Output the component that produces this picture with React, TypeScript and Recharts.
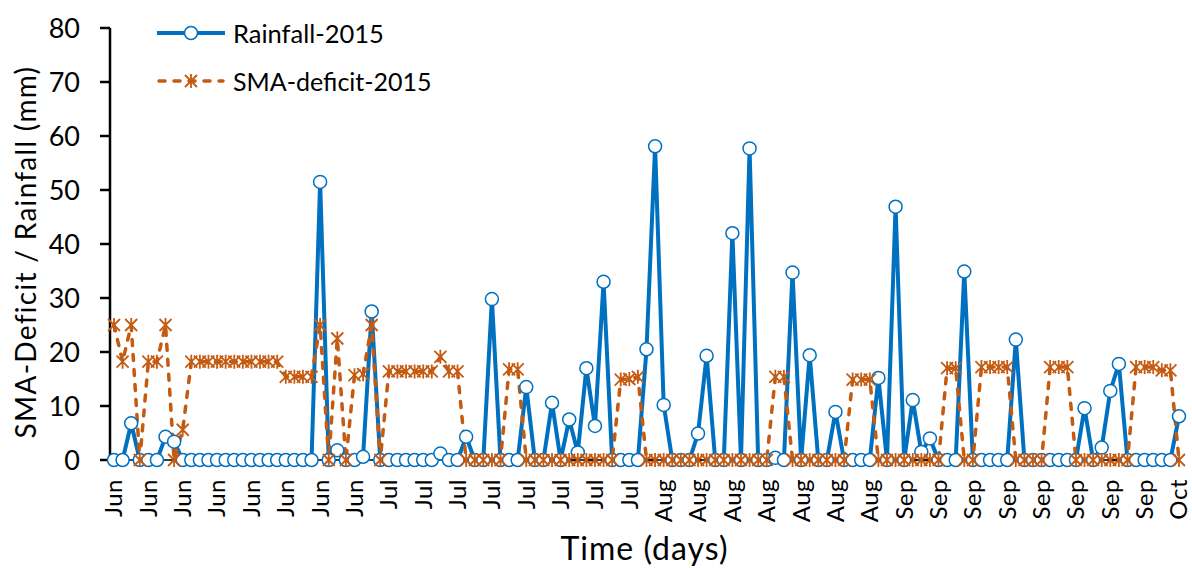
import React from 'react';
import { LineChart, Line, XAxis, YAxis, Legend } from 'recharts';

const RAIN_COLOR = '#0070C0';
const SMA_COLOR = '#C55A11';
const FONT = 'Lato, "Noto Sans", sans-serif';

const MONTH_NAMES = ['Jan', 'Feb', 'Mar', 'Apr', 'May', 'Jun', 'Jul', 'Aug', 'Sep', 'Oct', 'Nov', 'Dec'];
const FIRST_DAY = { year: 2015, month: 5, day: 1 }; // 1 June 2015

// daily rainfall (mm), 1 Jun - 3 Oct 2015
const rainfall2015 = [
  0, 0, 6.8, 0, 0, 0, 4.3, 3.4, 0, 0,
  0, 0, 0, 0, 0, 0, 0, 0, 0, 0,
  0, 0, 0, 0, 51.5, 0, 1.8, 0, 0, 0.6,
  27.5, 0, 0, 0, 0, 0, 0, 0, 1.2, 0,
  0, 4.3, 0, 0, 29.8, 0, 0, 0, 13.5, 0,
  0, 10.6, 0, 7.5, 1.4, 17.0, 6.3, 33.0, 0, 0,
  0, 0, 20.5, 58.1, 10.2, 0, 0, 0, 4.9, 19.3,
  0, 0, 42.0, 0, 57.7, 0, 0, 0.4, 0, 34.7,
  0, 19.4, 0, 0, 8.9, 0, 0, 0, 0, 15.2,
  0, 46.9, 0, 11.1, 1.5, 4.0, 0, 0, 0, 34.9,
  0, 0, 0, 0, 0, 22.3, 0, 0, 0, 0,
  0, 0, 0, 9.6, 0, 2.3, 12.8, 17.8, 0, 0,
  0, 0, 0, 0, 8.1,
];

// soil moisture accounting deficit (mm)
const smaDeficit2015 = [
  25, 18.2, 25, 0, 18.2, 18.2, 25, 0, 5.6, 18.2,
  18.2, 18.2, 18.2, 18.2, 18.2, 18.2, 18.2, 18.2, 18.2, 18.2,
  15.4, 15.4, 15.4, 15.4, 25, 0, 22.5, 0, 15.7, 15.9,
  25, 0, 16.4, 16.4, 16.4, 16.4, 16.4, 16.4, 19.1, 16.4,
  16.4, 0, 0, 0, 0, 0, 16.8, 16.8, 0, 0,
  0, 0, 0, 0, 0, 0, 0, 0, 0, 14.9,
  15.0, 15.4, 0, 0, 0, 0, 0, 0, 0, 0,
  0, 0, 0, 0, 0, 0, 0, 15.4, 15.4, 0,
  0, 0, 0, 0, 0, 0, 14.9, 14.9, 14.9, 0,
  0, 0, 0, 0, 0, 0, 0, 17.0, 17.0, 0,
  0, 17.2, 17.2, 17.2, 17.2, 0, 0, 0, 0, 17.2,
  17.2, 17.2, 0, 0, 0, 0, 0, 0, 0, 17.2,
  17.2, 17.2, 16.6, 16.6, 0,
];

const yTicks = [0, 10, 20, 30, 40, 50, 60, 70, 80];

const data = rainfall2015.map((rain, i) => {
  const d = new Date(FIRST_DAY.year, FIRST_DAY.month, FIRST_DAY.day + i);
  return {
    day: `${MONTH_NAMES[d.getMonth()]} ${d.getDate()}`,
    rainfall: rain,
    sma: smaDeficit2015[i],
  };
});

// excel style "star" marker: an X with a vertical bar through it
const StarDot = (props: any) => {
  const { cx, cy, index } = props;
  if (cx == null || cy == null) return null;
  return (
    <path
      key={`star-${index}`}
      d={`M${cx - 6},${cy - 6}L${cx + 6},${cy + 6}M${cx - 6},${cy + 6}L${cx + 6},${cy - 6}M${cx},${cy - 7}L${cx},${cy + 7}`}
      stroke={SMA_COLOR}
      strokeWidth={1.8}
      fill="none"
    />
  );
};

const MonthTick = (props: any) => {
  const { x, y, payload } = props;
  const month = String(payload.value).split(' ')[0];
  return (
    <g transform={`translate(${x},${y})`}>
      <text
        transform="rotate(-90)"
        x={-19}
        y={0}
        dy="0.35em"
        textAnchor="end"
        fontSize={24}
        letterSpacing={0.5}
        fontFamily={FONT}
        fill="#000"
      >
        {month}
      </text>
    </g>
  );
};

const YTitle = (props: any) => {
  const { viewBox } = props;
  const x = viewBox.x + 25;
  const y = viewBox.y + viewBox.height / 2 + 8;
  return (
    <text
      x={x}
      y={y}
      transform={`rotate(-90, ${x}, ${y})`}
      textAnchor="middle"
      dominantBaseline="central"
      fontSize={28}
      letterSpacing={1.3}
      fontFamily={FONT}
      fill="#000"
    >
      SMA-Deficit / Rainfall (mm)
    </text>
  );
};

const XTitle = (props: any) => {
  const { viewBox } = props;
  return (
    <text
      x={viewBox.x + viewBox.width / 2}
      y={viewBox.y + 100}
      textAnchor="middle"
      fontSize={32}
      letterSpacing={1}
      fontFamily={FONT}
      fill="#000"
    >
      Time (days)
    </text>
  );
};

const LegendBox = () => (
  <svg width={330} height={100}>
    <line x1={7} x2={75} y1={20} y2={20} stroke={RAIN_COLOR} strokeWidth={4} />
    <circle cx={41} cy={20} r={6.5} fill="#fff" stroke={RAIN_COLOR} strokeWidth={1.5} />
    <text x={83} y={20} dominantBaseline="central" fontSize={25.5} fontFamily={FONT} fill="#000">
      Rainfall-2015
    </text>
    <line
      x1={9}
      x2={73}
      y1={68}
      y2={68}
      stroke={SMA_COLOR}
      strokeWidth={3.5}
      strokeDasharray="6 9"
      strokeLinecap="round"
    />
    <path d="M35,62L47,74M35,74L47,62M41,61L41,75" stroke={SMA_COLOR} strokeWidth={1.8} fill="none" />
    <text x={83} y={68} dominantBaseline="central" fontSize={25} fontFamily={FONT} fill="#000">
      SMA-deficit-2015
    </text>
  </svg>
);

export default function App() {
  return (
    <div style={{ position: 'absolute', left: 0, top: 0, background: '#fff' }}>
      <LineChart width={1192} height={568} data={data} margin={{ top: 28, right: 13, bottom: 0, left: 0 }}>
        <XAxis
          dataKey="day"
          type="category"
          interval={3}
          height={108}
          padding={{ left: 4, right: 0 }}
          tickLine={false}
          tickSize={0}
          tickMargin={0}
          axisLine={{ stroke: '#000', strokeWidth: 1.5 }}
          tick={<MonthTick />}
          label={<XTitle />}
        />
        <YAxis
          type="number"
          domain={[0, 80]}
          ticks={yTicks}
          interval={0}
          width={110}
          tickSize={10}
          tickMargin={20}
          axisLine={{ stroke: '#000', strokeWidth: 2.5 }}
          tickLine={{ stroke: '#000', strokeWidth: 2.5 }}
          tick={{ fontSize: 27, fontFamily: FONT, fill: '#000' }}
          label={<YTitle />}
        />
        <Legend
          layout="vertical"
          align="center"
          verticalAlign="middle"
          content={<LegendBox />}
          wrapperStyle={{ left: 150, top: 13, width: 330, height: 100 }}
        />
        <Line
          type="linear"
          dataKey="rainfall"
          name="Rainfall-2015"
          stroke={RAIN_COLOR}
          strokeWidth={4}
          dot={{ r: 6.5, fill: '#fff', stroke: RAIN_COLOR, strokeWidth: 1.5 }}
          activeDot={false}
          isAnimationActive={false}
        />
        <Line
          type="linear"
          dataKey="sma"
          name="SMA-deficit-2015"
          stroke={SMA_COLOR}
          strokeWidth={3.5}
          strokeDasharray="6 9"
          strokeLinecap="round"
          dot={StarDot}
          activeDot={false}
          isAnimationActive={false}
        />
      </LineChart>
    </div>
  );
}
